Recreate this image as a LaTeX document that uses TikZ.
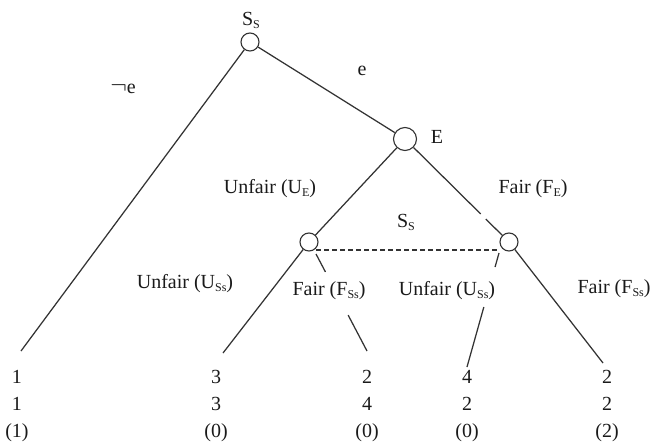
\documentclass[tikz,border=0pt]{standalone}
\usepackage{fontspec}
\setmainfont{Liberation Serif}
\usetikzlibrary{calc}
\newcommand{\sbs}[1]{\raisebox{-3pt}{\fontsize{12}{12}\selectfont #1}}
\definecolor{ln}{HTML}{333333}
\definecolor{tx}{HTML}{1A1A1A}
\begin{document}
\begin{tikzpicture}[x=1pt,y=-1pt,
  state/.style={circle, draw=ln, fill=white, inner sep=0pt, line width=1.1pt, minimum size=#1},
  state/.default=18pt,
  lbl/.style={font=\fontsize{20}{24}\selectfont, text=tx, inner sep=0pt, anchor=base},
  edge/.style={draw=ln, line width=1.25pt},
  info/.style={draw=ln, line width=1.1pt, dash pattern=on 5pt off 3pt}]
\useasboundingbox (0,0) rectangle (653,444);
% decision nodes
\node[state] (root) at (250,42) {};
\node[state=23pt] (E) at (405,139) {};
\node[state] (ls) at (309,242) {};
\node[state] (rs) at (509,242) {};
% connector end points
\coordinate (t1) at (21,351);
\coordinate (t2) at (223,353);
\coordinate (t3) at (367,351);
\coordinate (t4) at (467,367);
\coordinate (t5) at (603,363);
\coordinate (lsa) at (316,254);
\coordinate (rsa) at (499,253);
\coordinate (da) at (316,250);
\coordinate (db) at (498,250);
% connectors
\draw[edge] (root) -- (t1);
\draw[edge] (root) -- (E);
\draw[edge] (E) -- (ls);
\draw[edge] (E) -- ($(E)!0.728!(rs)$);
\draw[edge] ($(E)!0.777!(rs)$) -- (rs);
\draw[edge] (ls) -- (t2);
\draw[edge] (lsa) -- ($(lsa)!0.185!(t3)$);
\draw[edge] ($(lsa)!0.63!(t3)$) -- (t3);
\draw[edge] (rsa) -- ($(rsa)!0.123!(t4)$);
\draw[edge] ($(rsa)!0.474!(t4)$) -- (t4);
\draw[edge] (rs) -- (t5);
\draw[info] (da) -- (db);
% labels
\node[lbl] (lroot) at (251,26) {S\sbs{S}};
\node[lbl] (lne) at (123,93) {\fontsize{24}{24}\selectfont$\neg$\fontsize{20}{24}\selectfont e};
\node[lbl] (le) at (362,76) {e};
\node[lbl] (lE) at (437,143) {E};
\node[lbl] (lue) at (270,193) {Unfair (U\sbs{E})};
\node[lbl] (lfe) at (533,193) {Fair (F\sbs{E})};
\node[lbl] (lss) at (406,227) {S\sbs{S}};
\node[lbl] (lu1) at (185,288) {Unfair (U\sbs{Ss})};
\node[lbl] (lf1) at (329,295) {Fair (F\sbs{Ss})};
\node[lbl] (lu2) at (447,295) {Unfair (U\sbs{Ss})};
\node[lbl] (lf2) at (614,293) {Fair (F\sbs{Ss})};
% payoffs
\foreach \n/\x/\a/\b/\c in {1/17/1/1/(1), 2/216/3/3/(0), 3/367/2/4/(0), 4/467/4/2/(0), 5/607/2/2/(2)}{
  \node[lbl] (p\n a) at (\x,383) {\a};
  \node[lbl] (p\n b) at (\x,410) {\b};
  \node[lbl] (p\n c) at (\x,437) {\c};
}
\end{tikzpicture}
\end{document}
